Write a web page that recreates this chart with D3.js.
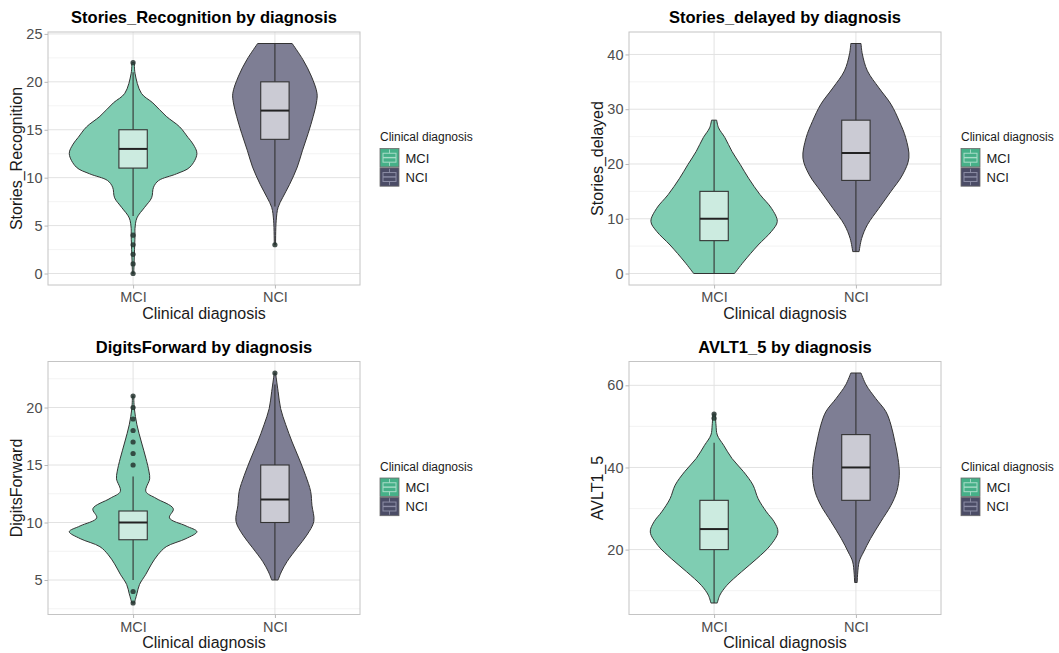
<!DOCTYPE html>
<html>
<head>
<meta charset="utf-8">
<script src="https://cdn.jsdelivr.net/npm/d3@7"></script>
<style>
  body { margin: 0; background: #fff; }
  svg { font-family: "Liberation Sans", Arial, Helvetica, sans-serif; }
</style>
</head>
<body>
<div id="chart"></div>
<script>
// ---- data ----
const categories = ["MCI", "NCI"];

// density profiles: [value, relative width]  (1 = widest violin of the panel)
const recogTicks = [0, 5, 10, 15, 20, 25];
const recogMciDensity = [[0,0.01],[2,0.02],[4,0.03],[4.7,0.03],[5.8,0.06],[6.9,0.18],[7.9,0.29],[9.0,0.32],[9.7,0.4],[10.4,0.68],[11.1,0.89],[12.5,1.0],[13.5,0.94],[14.2,0.86],[15.3,0.73],[16.4,0.52],[17.8,0.31],[18.8,0.13],[20.9,0.03],[22,0.02]];
const recogNciDensity = [[3,0.01],[5.5,0.02],[6.9,0.05],[7.9,0.12],[9.3,0.23],[11.1,0.35],[12.8,0.43],[14.6,0.52],[16.4,0.6],[17.8,0.65],[18.8,0.66],[20.6,0.57],[22.3,0.44],[24,0.27]];
const recogBoxes = [[6, 11, 13, 15, 21], [7, 14, 17, 20, 24]]; // lower, q1, median, q3, upper
const recogOutliers = [[0, 1, 2, 3, 4, 22], [3]];

const delayedTicks = [0, 10, 20, 30, 40];
const delayedMciDensity = [[0,0.32],[2.1,0.46],[5.2,0.69],[7.7,0.9],[9.5,0.99],[11.9,0.9],[14.4,0.72],[17.4,0.54],[19.9,0.41],[22.3,0.28],[24.8,0.17],[26.6,0.07],[28,0.04]];
const delayedNciDensity = [[4,0.05],[6.4,0.09],[8.9,0.18],[11.9,0.36],[15.0,0.55],[18.0,0.73],[21.1,0.83],[24.8,0.78],[27.8,0.68],[30.9,0.55],[33.9,0.36],[37.0,0.18],[40.1,0.1],[42,0.08]];
const delayedBoxes = [[0, 6, 10, 15, 28], [4, 17, 22, 28, 42]];
const delayedOutliers = [[], []];

const digitsTicks = [5, 10, 15, 20];
const digitsMciDensity = [[3,0.02],[3.8,0.06],[4.6,0.1],[5.5,0.2],[6.4,0.29],[7.2,0.39],[7.9,0.52],[8.6,0.83],[9.2,1.0],[9.7,0.83],[10.4,0.57],[11.2,0.63],[12.1,0.36],[12.7,0.2],[13.8,0.26],[14.4,0.25],[15.6,0.2],[17.0,0.13],[18.5,0.06],[19.9,0.02],[21,0.01]];
const digitsNciDensity = [[5,0.05],[5.7,0.1],[6.6,0.19],[7.8,0.35],[8.9,0.5],[10.1,0.61],[11.5,0.58],[12.7,0.56],[14.1,0.48],[15.6,0.375],[17.0,0.27],[18.5,0.17],[19.9,0.09],[21.4,0.05],[23,0.01]];
const digitsBoxes = [[5, 8.5, 10, 11, 14], [5, 10, 12, 15, 22]];
const digitsOutliers = [[3, 4, 15, 16, 17, 18, 19, 20, 21], [23]];

const avltTicks = [20, 40, 60];
const avltMciDensity = [[7,0.05],[8.9,0.09],[11.3,0.2],[14.6,0.43],[17.8,0.67],[21.0,0.88],[24.3,1.0],[26.8,0.94],[29.2,0.82],[32.4,0.69],[35.7,0.61],[39.0,0.46],[42.2,0.28],[45.4,0.15],[47.9,0.05],[50.3,0.03],[53,0.02]];
const avltNciDensity = [[12,0.02],[17.0,0.05],[19.4,0.12],[22.7,0.23],[26.8,0.39],[30.8,0.55],[34.1,0.64],[38.1,0.68],[42.2,0.66],[46.3,0.61],[50.3,0.55],[53.6,0.47],[56.8,0.31],[60.1,0.16],[63,0.08]];
const avltBoxes = [[7, 20, 25, 32, 46], [12, 32, 40, 48, 63]];
const avltOutliers = [[52, 53], []];

const panels = [
    {title: "Stories_Recognition by diagnosis", yLabel: "Stories_Recognition", ticks: recogTicks,
     density: [recogMciDensity, recogNciDensity], boxes: recogBoxes, outliers: recogOutliers, col: 0, row: 0},
    {title: "Stories_delayed by diagnosis", yLabel: "Stories_delayed", ticks: delayedTicks,
     density: [delayedMciDensity, delayedNciDensity], boxes: delayedBoxes, outliers: delayedOutliers, col: 1, row: 0},
    {title: "DigitsForward by diagnosis", yLabel: "DigitsForward", ticks: digitsTicks,
     density: [digitsMciDensity, digitsNciDensity], boxes: digitsBoxes, outliers: digitsOutliers, col: 0, row: 1},
    {title: "AVLT1_5 by diagnosis", yLabel: "AVLT1_5", ticks: avltTicks,
     density: [avltMciDensity, avltNciDensity], boxes: avltBoxes, outliers: avltOutliers, col: 1, row: 1}
];

// ---- layout / style ----
const W = 1059, H = 653;
const colX = [48, 629], rowY = [32, 361.5];
const panelW = 312, panelH = 253;
const violinFill = ["#7fcdb2", "#7e7e94"];
const keyFill = ["#46b088", "#4b4c66"];
const keyLine = ["#a9dcc8", "#8d8ea6"];
const ink = "#333333";

const svg = d3.select("#chart").append("svg")
    .attr("width", W)
    .attr("height", H);

panels.forEach(drawPanel);

function drawPanel(p) {
    const left = colX[p.col], top = rowY[p.row];
    const g = svg.append("g").attr("transform", `translate(${left},${top})`);

    // y domain: data range with 5% expansion (ggplot default)
    let vals = [];
    p.density.forEach(d => d.forEach(e => vals.push(e[0])));
    p.outliers.forEach(o => vals = vals.concat(o));
    const ext = d3.extent(vals);
    const pad = (ext[1] - ext[0]) * 0.05;

    const y = d3.scaleLinear().domain([ext[0] - pad, ext[1] + pad]).range([panelH, 0]);
    const x = d3.scalePoint().domain(categories).range([0, panelW]).padding(0.6);
    const step = x.step();

    // minor grid
    const tStep = p.ticks[1] - p.ticks[0];
    const minors = d3.range(p.ticks[0] - tStep / 2, p.ticks[p.ticks.length - 1] + tStep, tStep)
        .filter(v => v > y.domain()[0] && v < y.domain()[1]);
    g.selectAll(".minor").data(minors).enter().append("line")
        .attr("x1", 0).attr("x2", panelW)
        .attr("y1", d => y(d)).attr("y2", d => y(d))
        .attr("stroke", "#f0f0f0").attr("stroke-width", 0.8);

    // major grid
    g.selectAll(".hmajor").data(p.ticks).enter().append("line")
        .attr("x1", 0).attr("x2", panelW)
        .attr("y1", d => y(d)).attr("y2", d => y(d))
        .attr("stroke", "#e2e2e2").attr("stroke-width", 1);
    g.selectAll(".vmajor").data(categories).enter().append("line")
        .attr("x1", d => x(d)).attr("x2", d => x(d))
        .attr("y1", 0).attr("y2", panelH)
        .attr("stroke", "#e2e2e2").attr("stroke-width", 1);

    // violins
    const area = d3.area()
        .y(d => y(d[0]))
        .x0(d => -d[1] * 0.45 * step)
        .x1(d => d[1] * 0.45 * step)
        .curve(d3.curveCatmullRom.alpha(0.5));

    categories.forEach((c, i) => {
        const vg = g.append("g").attr("transform", `translate(${x(c)},0)`);
        vg.append("path")
            .datum(p.density[i])
            .attr("d", area)
            .attr("fill", violinFill[i])
            .attr("stroke", ink)
            .attr("stroke-width", 1);

        const b = p.boxes[i];
        const bw = 0.1 * step;
        // whiskers
        vg.append("line").attr("x1", 0).attr("x2", 0)
            .attr("y1", y(b[3])).attr("y2", y(b[4]))
            .attr("stroke", ink).attr("stroke-width", 1.1);
        vg.append("line").attr("x1", 0).attr("x2", 0)
            .attr("y1", y(b[1])).attr("y2", y(b[0]))
            .attr("stroke", ink).attr("stroke-width", 1.1);
        // box
        vg.append("rect")
            .attr("x", -bw).attr("width", 2 * bw)
            .attr("y", y(b[3])).attr("height", y(b[1]) - y(b[3]))
            .attr("fill", "#ffffff").attr("fill-opacity", 0.6)
            .attr("stroke", ink).attr("stroke-width", 1.1);
        vg.append("line")
            .attr("x1", -bw).attr("x2", bw)
            .attr("y1", y(b[2])).attr("y2", y(b[2]))
            .attr("stroke", "#222").attr("stroke-width", 2);
        // outliers
        vg.selectAll(".out").data(p.outliers[i]).enter().append("circle")
            .attr("cx", 0).attr("cy", d => y(d)).attr("r", 2.6)
            .attr("fill", "#263530").attr("fill-opacity", 0.85);
    });

    // panel border
    g.append("rect").attr("width", panelW).attr("height", panelH)
        .attr("fill", "none").attr("stroke", "#c4c4c4").attr("stroke-width", 1);

    // axes
    const yAxis = d3.axisLeft(y).tickValues(p.ticks).tickSize(3.5).tickPadding(2);
    const xAxis = d3.axisBottom(x).tickSize(3.5).tickPadding(3.5);
    const ya = g.append("g").call(yAxis);
    const xa = g.append("g").attr("transform", `translate(0,${panelH})`).call(xAxis);
    [ya, xa].forEach(a => {
        a.select(".domain").remove();
        a.selectAll("line").attr("stroke", "#b8b8b8");
        a.selectAll("text").attr("fill", "#4d4d4d").style("font-size", "14.5px")
            .style("font-family", "'Liberation Sans', Arial, sans-serif");
    });

    // titles
    g.append("text")
        .attr("x", panelW / 2).attr("y", -9)
        .attr("text-anchor", "middle")
        .style("font-size", "16.5px").style("font-weight", "bold")
        .attr("fill", "#000")
        .text(p.title);
    g.append("text")
        .attr("x", panelW / 2).attr("y", panelH + 33.5)
        .attr("text-anchor", "middle")
        .style("font-size", "16px").attr("fill", "#1a1a1a")
        .text("Clinical diagnosis");
    g.append("text")
        .attr("transform", `translate(-26.5,${panelH / 2}) rotate(-90)`)
        .attr("text-anchor", "middle")
        .style("font-size", "16px").attr("fill", "#1a1a1a")
        .text(p.yLabel);

    // legend
    const lg = g.append("g").attr("transform", `translate(${panelW + 20},0)`);
    lg.append("text").attr("x", 0).attr("y", 109)
        .style("font-size", "12px").attr("fill", "#1a1a1a")
        .text("Clinical diagnosis");
    categories.forEach((c, i) => {
        const ky = 116.5 + i * 19.3, ks = 19;
        const k = lg.append("g").attr("transform", `translate(0,${ky})`);
        k.append("rect").attr("width", ks).attr("height", ks - 0.6)
            .attr("fill", keyFill[i]).attr("stroke", "#6b6b6b").attr("stroke-width", 0.8);
        k.append("line").attr("x1", ks / 2).attr("x2", ks / 2).attr("y1", 1).attr("y2", ks - 1.6)
            .attr("stroke", keyLine[i]).attr("stroke-width", 0.9);
        k.append("rect").attr("x", 3).attr("y", ks * 0.25).attr("width", ks - 6).attr("height", ks * 0.47)
            .attr("fill", keyFill[i]).attr("stroke", keyLine[i]).attr("stroke-width", 1);
        k.append("line").attr("x1", 3).attr("x2", ks - 3).attr("y1", ks * 0.48).attr("y2", ks * 0.48)
            .attr("stroke", keyLine[i]).attr("stroke-width", 1.4);
        lg.append("text").attr("x", 25.5).attr("y", ky + 14)
            .style("font-size", "13px").attr("fill", "#1a1a1a")
            .text(c);
    });
}
</script>
</body>
</html>
